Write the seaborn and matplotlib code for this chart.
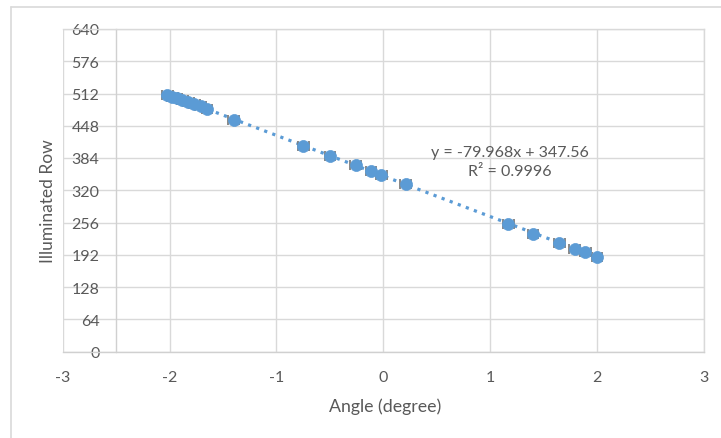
import numpy as np
import pandas as pd
import matplotlib
matplotlib.use("Agg")
import matplotlib.pyplot as plt
from matplotlib.lines import Line2D
import seaborn as sns

# ---- data ----
angle = [-2.02, -1.975, -1.93, -1.88, -1.825, -1.77, -1.71, -1.65, -1.40,
         -0.75, -0.50, -0.26, -0.115, -0.02, 0.21,
         1.17, 1.40, 1.645, 1.79, 1.89, 2.00]
row = [509, 506, 503, 500, 496, 492, 488, 482, 460,
       408, 388, 370, 358, 351, 332,
       254, 234, 216, 204, 197, 187]
angle_err = [0.05] * len(angle)
x_ticks = [-3, -2, -1, 0, 1, 2, 3]
y_ticks = [0, 64, 128, 192, 256, 320, 384, 448, 512, 576, 640]
eq_text = "y = -79.968x + 347.56"
r2_text = "R\u00b2 = 0.9996"

df = pd.DataFrame({"Angle": angle, "Row": row, "err": angle_err})

sns.set_theme(style="white")
plt.rcParams["font.family"] = ["Lato", "DejaVu Sans"]

TXT = "#595959"
GRID = "#D9D9D9"
BLUE = "#5B9BD5"

fig = plt.figure(figsize=(7.21, 4.39), dpi=100)
ax = fig.add_axes([62.7 / 721, 1 - 352.5 / 439, (704 - 62.7) / 721, (352.5 - 30) / 439])

# error bars (horizontal)
ax.errorbar(df["Angle"], df["Row"], xerr=df["err"], fmt="none",
            ecolor="#7F7F7F", elinewidth=1.2, capsize=3.5, capthick=1.3, zorder=3)

# trendline
sns.regplot(data=df, x="Angle", y="Row", ax=ax, ci=None, scatter=False,
            truncate=True,
            line_kws=dict(color=BLUE, lw=2.3, linestyle=(0, (1, 1.7)), zorder=2))

# markers
sns.scatterplot(data=df, x="Angle", y="Row", ax=ax, color=BLUE, s=75,
                edgecolor=BLUE, linewidth=0.5, zorder=4, legend=False)

ax.set_xlim(-3, 3)
ax.set_ylim(0, 640)
ax.set_xticks(x_ticks)
ax.set_yticks(y_ticks)
ax.set_xticklabels([str(v) for v in x_ticks])
ax.set_yticklabels([str(v) for v in y_ticks])

ax.grid(True, color=GRID, lw=1.0)
ax.set_axisbelow(True)
for s in ["top", "right"]:
    ax.spines[s].set_color(GRID)
    ax.spines[s].set_linewidth(1.0)
ax.spines["left"].set_position(("data", -2.5))
ax.spines["left"].set_color("#D0D0D0")
ax.spines["left"].set_linewidth(1.0)
ax.spines["bottom"].set_color("#D0D0D0")
ax.spines["bottom"].set_linewidth(1.0)

ax.tick_params(axis="both", length=0, labelsize=11.5, labelcolor=TXT)
ax.tick_params(axis="y", pad=12)
ax.tick_params(axis="x", pad=13)

ax.set_xlabel("Angle (degree)", fontsize=12.8, color=TXT, va="center")
ax.set_ylabel("Illuminated Row", fontsize=12.5, color=TXT, va="center")
ax.xaxis.set_label_coords((385 - 62.7) / 641.3, (352.5 - 407) / 322.5)
ax.yaxis.set_label_coords((48 - 62.7) / 641.3, (352.5 - 201) / 322.5)

ax.text(1.18, 396, eq_text, ha="center", va="center", fontsize=11.5, color=TXT)
ax.text(1.18, 358, r2_text, ha="center", va="center", fontsize=11.5, color=TXT)

# chart-area border (top and left visible)
fig.add_artist(Line2D([11 / 721, 1], [1 - 8 / 439, 1 - 8 / 439],
                      color=GRID, lw=1.2, transform=fig.transFigure))
fig.add_artist(Line2D([11 / 721, 11 / 721], [0, 1 - 8 / 439],
                      color=GRID, lw=1.2, transform=fig.transFigure))

fig.savefig("out.png", dpi=100)
